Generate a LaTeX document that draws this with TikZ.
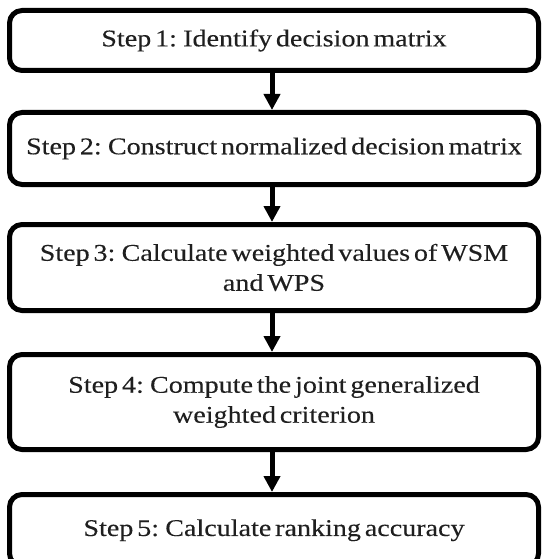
\documentclass[tikz,border=0pt]{standalone}
\usepackage{fontspec}
\setmainfont{Liberation Serif}[FakeStretch=1.17,WordSpace=0.55,FakeBold=0.2]
\usetikzlibrary{arrows.meta}
\begin{document}
\begin{tikzpicture}[x=1pt,y=1pt,
  stepbox/.style={draw=black,line width=5pt,rounded corners=12.5pt,
    minimum width=529pt,align=center,inner sep=0pt,
    font=\fontsize{24}{30}\selectfont,text=black!88},
  flow/.style={line width=5pt,-{Triangle[width=16pt,length=16pt]}}]
\useasboundingbox (0,0) rectangle (542,-559);
\node[stepbox,minimum height=60pt] (b1) at (274,-40.5) {Step 1: Identify decision matrix};
\node[stepbox,minimum height=72pt] (b2) at (274,-148.5) {Step 2: Construct normalized decision matrix};
\node[stepbox,minimum height=86pt] (b3) at (274,-267.5) {Step 3: Calculate weighted values of WSM\\and WPS};
\node[stepbox,minimum height=95pt] (b4) at (274,-402) {Step 4: Compute the joint generalized\\weighted criterion};
\node[stepbox,minimum height=71.5pt] (b5) at (274,-530.25) {\raisebox{4pt}{Step 5: Calculate ranking accuracy}};
\draw[flow] ([xshift=-2pt]b1.south) -- ([xshift=-2pt]b2.north);
\draw[flow] ([xshift=-2pt]b2.south) -- ([xshift=-2pt]b3.north);
\draw[flow] ([xshift=-2pt]b3.south) -- ([xshift=-2pt]b4.north);
\draw[flow] ([xshift=-2pt]b4.south) -- ([xshift=-2pt]b5.north);
\end{tikzpicture}
\end{document}
